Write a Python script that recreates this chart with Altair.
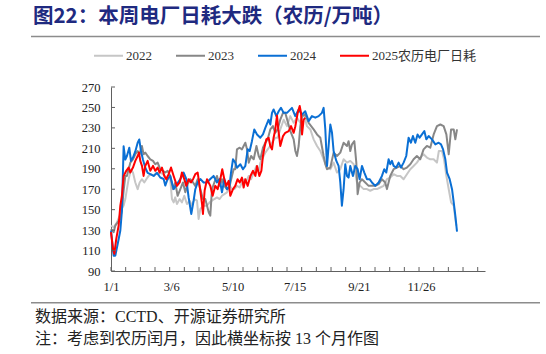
import altair as alt
import pandas as pd

# ---------------- data (day index on a 13-month lunar axis, value in 万吨) ----------------
series_names = ["2022", "2023", "2024", "2025农历电厂日耗"]
series_colors = ["#c6c6c6", "#878787", "#0a6fd4", "#ff0000"]

d2022 = [0, 2.8, 6.4, 9.2, 11.6, 13.4, 15.2, 16.9, 18.7, 21.2, 23.3, 25.8, 28.3, 30.4, 32.8, 35.3, 37.5,
         39.9, 42.4, 45.3, 48.1, 50.6, 52.3, 55.2, 57.6, 60.1, 62.9, 64.7, 66.5, 68.2, 70, 72.9, 75.3, 77.8,
         80.6, 83.5, 85.9, 88.4, 91.3, 93, 94.8, 96.6, 99, 101.9, 104.7, 107.2, 109.7, 112.5, 115.3, 117.8,
         120.3, 123.1, 126, 128.4, 130.9, 133.7, 136.6, 139, 141.5, 143.7, 146.2, 148.7, 151.5, 154.4, 156.8,
         158.5, 161.3, 163.8, 166.3, 169.1, 171.9, 174.4, 176.9, 179.7, 183.3, 186.8, 190.3, 193.9, 197.4,
         201, 204.5, 208, 211.6, 215.1, 218.7, 222.2, 225.7, 229.3, 232.8, 236.3, 239.9, 243.4, 246.9, 250.5,
         254, 257.6, 261.1, 264.6, 268.2, 271.7, 275.2, 278.8, 282.3, 285.8, 289.4, 292.9, 296.4, 300, 303.5,
         307.1, 310.6, 314.1, 317.7, 321.2, 324.7, 328.3, 331.8, 335.3, 338.9, 342.5, 346, 348, 351.4, 353.5,
         356, 358.5, 361, 363.8, 365.5, 366.6]
v2022 = [134.4, 132.8, 137.7, 144.2, 151, 154, 160.4, 170.1, 179.8, 189.6, 186.3, 176.6, 170.1, 176.6, 179.8,
         176.6, 179.8, 183, 184.7, 183, 186.3, 184.7, 186.3, 184.7, 183, 179.8, 179.8, 160.4, 157.1, 162, 155.5,
         160.4, 157.1, 163.6, 155.5, 158.8, 153.9, 160.4, 158.8, 140.9, 150.6, 152.3, 153.9, 153.9, 157.1,
         158.8, 160.4, 162, 160.4, 163.6, 165.2, 166.9, 173.3, 170.1, 170.1, 173.3, 171.7, 176.6, 179.8, 178.2,
         183, 179.8, 186.3, 192.8, 188, 196, 200.9, 205.8, 209, 212.3, 217, 220.4, 220.4, 228.5, 238, 231.7,
         241.5, 235, 239.8, 235, 244.7, 231.7, 228.5, 218.8, 212.3, 207.4, 199.3, 191.2, 189.6, 196, 186.3,
         189.6, 199.3, 196, 197.7, 194.4, 176.6, 173.3, 170.1, 170.1, 168.5, 170.1, 170.1, 171.7, 173.3, 179.8,
         181.4, 184.7, 183, 183, 179.8, 184.7, 189.6, 192.8, 196, 200.9, 204.2, 201, 199.3, 199.3, 196, 207.4,
         207.4, 199.3, 183, 170, 157.1, 153.9, 141, 134.4]

d2023 = [0, 2.8, 4.6, 7.1, 9.9, 11.6, 13.4, 15.2, 16.9, 18.7, 20.5, 23.3, 25.8, 28.3, 30.4, 32.8, 34.6, 36.4,
         38.9, 41.7, 44.6, 47, 49.5, 52.3, 55.2, 57.6, 60.1, 62.9, 65.8, 68.2, 70.7, 73.6, 76.4, 78.9, 81.4,
         84.2, 87.1, 89.5, 92, 94.8, 97.6, 100.1, 103.7, 105.4, 107.2, 109.7, 112.5, 115.3, 117.8, 120.3,
         123.1, 126, 128.4, 130.2, 131.9, 133.7, 136.6, 139, 140.8, 142.6, 144.4, 146.2, 148.7, 151.5, 154.4,
         156.8, 158.5, 161.3, 163.8, 166.3, 169.1, 171.9, 174.4, 176.9, 179.7, 182.6, 185, 187.9, 190.4, 193.9,
         195.7, 197.4, 199.2, 201, 202.8, 206.3, 209.8, 215.1, 218.7, 222.2, 225.7, 227.5, 229.3, 232.8, 236.3,
         239.9, 243.4, 246.9, 250.5, 252.2, 254, 255.8, 258.3, 260.4, 261.8, 263.9, 266.4, 269.9, 273.5, 277,
         280.5, 284.1, 287.6, 291.1, 292.9, 296.4, 300, 303.5, 307.1, 310.6, 314.1, 317.7, 321.2, 324.7, 328.3,
         331.8, 335.3, 338.9, 342.5, 346, 349.6, 353.1, 356, 358.5, 361, 363.8, 365.5, 367.3]
v2023 = [131.2, 128, 134.4, 137.7, 140.9, 150.6, 168.5, 183, 183, 189.6, 196, 199.3, 204.2, 207.4, 204.2,
         212.3, 204.2, 205.8, 202.5, 199.3, 197.7, 194.4, 196, 189.6, 188, 186.3, 188, 183, 170.1, 176.6, 163.6,
         170.1, 176.6, 167, 175, 179.8, 176.6, 173.3, 179.8, 170.1, 160.4, 160.4, 147.4, 144.2, 170.1, 176.6,
         183, 173.3, 179.8, 173.3, 170.1, 173.3, 183, 189.6, 189.6, 209, 210.6, 209, 212.3, 215.5, 209, 196,
         202.5, 199.3, 212.3, 202.5, 199.3, 210.6, 215.5, 218.8, 228.5, 231.7, 225.2, 228.5, 238.2, 244.7,
         244.7, 235, 226.9, 218.8, 207.4, 202.5, 212.3, 231.7, 241.5, 243, 235, 228.5, 223.6, 220.4, 202.5,
         194.4, 189.6, 191.2, 205.8, 202.5, 205.8, 215.5, 212.3, 217, 207.4, 213.9, 217, 196, 165.2, 176.6,
         179.8, 176.6, 173.3, 173.3, 173.3, 175, 179.8, 176.6, 170.1, 183, 189.6, 191.2, 192.8, 189.6, 191.2,
         194.4, 199.3, 202.5, 199.3, 209, 212.3, 210.6, 223.6, 231.7, 233.3, 231.7, 223.6, 204.2, 228.5, 228.5,
         218.8, 228.5]

d2024 = [0, 2.8, 4.6, 8.1, 9.9, 11.6, 13.4, 15.2, 16.9, 19.4, 21.2, 23.3, 25.8, 28.3, 30, 31.8, 33.9, 36.4,
         38.9, 41.7, 45.3, 48.8, 52.3, 55.9, 57.6, 60.1, 62.9, 66.5, 70, 73.6, 77.1, 79.9, 82.4, 85.2, 87.7,
         89.5, 92, 94.8, 98.3, 101.9, 105.4, 108.9, 112.5, 115.3, 117.8, 120.3, 123.1, 125.6, 127.4, 129.5,
         131.9, 133.7, 137.3, 140.1, 142.6, 145.1, 147.2, 149.6, 152.1, 155, 158.5, 161.3, 163.8, 167.3, 169.1,
         170.9, 172.6, 175.5, 178, 180.4, 183.3, 186.8, 192.1, 195.6, 199.2, 202.7, 206.2, 209.8, 213.3, 216.9,
         220.4, 223.9, 225.7, 227.5, 229.3, 231, 232.8, 234.6, 236.3, 239.2, 241.6, 243.4, 245.1, 246.9, 248.7,
         250.5, 252.2, 254, 256.8, 259.3, 261.8, 263.9, 266.4, 268.9, 271.7, 274.5, 277, 280.5, 284.1, 287.6,
         290.1, 292.2, 294.7, 296.4, 298.2, 300, 302.8, 305.3, 307.8, 310.6, 313.4, 315.9, 318.4, 320.5, 323,
         325.4, 327.6, 330.1, 332.6, 334.7, 337.2, 340.7, 344.3, 347.8, 350.3, 352.5, 354.9, 356.7, 359.5, 362,
         363.8, 365.5, 367.3]
v2024 = [129.6, 105, 105, 121, 129.6, 149, 212, 199, 202.5, 210.6, 197.7, 201, 207, 215.5, 218.7, 207.4, 199,
         191, 186, 184.7, 183, 186, 181.5, 180, 173.6, 180, 183, 170.1, 175, 180, 186.3, 180, 162, 145.8, 158.8,
         170, 176.6, 180, 176.6, 176.6, 180, 183, 176.6, 180, 167, 180, 170, 171.7, 186.3, 199.3, 196, 191,
         194.4, 189.5, 192.8, 209, 207.4, 217, 228.5, 223.6, 220.4, 223.6, 230, 238, 233.3, 244.7, 248, 241.5,
         246.3, 249.6, 244.7, 244.7, 249.6, 241.5, 248, 243, 246.3, 236.6, 241.5, 240, 241.5, 244.7, 249.6,
         228.5, 192.8, 212.3, 233.3, 225.2, 207.4, 197.7, 192.8, 176.6, 153.9, 170, 194.4, 183, 181.4, 192.8,
         183, 192.8, 189.6, 179.8, 192.8, 186.3, 179.8, 179.8, 176.6, 173.3, 176.6, 183, 189.6, 186.3, 199.3,
         194.4, 197.7, 192.8, 191.2, 196, 191.2, 196, 202.5, 220.4, 215.5, 222, 215.5, 223.6, 220.4, 223.6,
         226.9, 218.8, 222, 218.8, 213.9, 215.5, 213.9, 209, 199.3, 186.3, 179.8, 170, 157.1, 144.2, 128.6]

d2025 = [0, 2.1, 3.5, 5.6, 8.1, 9.9, 11.6, 13.4, 16.2, 18.7, 20.5, 23.3, 25.8, 28.3, 29.7, 31.1, 32.9, 34.6,
         36.4, 38.9, 41.7, 44.6, 47, 49.5, 51.6, 54.1, 56.6, 58.7, 61.2, 63.7, 66.5, 70, 72.9, 75.3, 77.8, 79.9,
         82.4, 84.9, 87.1, 89.5, 92, 94.1, 96.6, 97.6, 99.4, 101.9, 105.4, 107.9, 110.7, 113.2, 116, 118.1,
         120.3, 122.4, 124.9, 126.6, 129.5, 131.9, 134.4, 136.6, 139, 140.8, 142.6, 145.1, 148, 150.8, 153.3,
         155, 157.5, 159.6, 161.3, 162.8, 164.9, 167.3, 169.1, 170.9, 172.6, 174.4, 176.2, 177.6, 179.7, 182.6,
         185, 188.6, 191.1, 193.9, 195.7, 198.2, 200.3, 201.7, 202.8, 204.5, 206.2]
v2025 = [128, 111.7, 106.8, 121.4, 134.4, 154, 163.6, 183, 188, 191.2, 186.3, 191.2, 197.7, 202.5, 205.8, 197.7,
         192.8, 183, 192.8, 197.7, 188, 192.8, 188, 191.2, 186.3, 191.2, 183, 179.8, 184.7, 191.2, 183, 173.3,
         176.6, 186.3, 179.8, 173.3, 179.8, 176.6, 179.8, 184.7, 186.3, 173.3, 155.9, 145.8, 168.8, 179.8, 173.3,
         163.6, 173.3, 170.1, 179.8, 189.6, 179.8, 173.3, 178.2, 163.6, 170.1, 173.3, 179.8, 176.6, 181.4, 171.7,
         179.8, 173.3, 183, 188, 183, 192.8, 183, 188, 202.5, 210.6, 218.8, 220.4, 212.3, 209, 220.4, 228.5, 242,
         228.5, 212.3, 222, 225.2, 226.9, 231.7, 225.2, 231.7, 244.7, 251.5, 244.7, 223.6, 238, 239.8]

# axis ticks / labels
x_tick_days = [round(i * 15.57, 2) for i in range(26)]
x_label_days = [0, 64, 129, 195, 263, 329]
x_label_text = ["1/1", "3/6", "5/10", "7/15", "9/21", "11/26"]
y_ticks = [90, 110, 130, 150, 170, 190, 210, 230, 250, 270]

title_text = "图22：本周电厂日耗大跌（农历/万吨）"
source_text = "数据来源：CCTD、开源证券研究所"
note_text = "注：考虑到农历闰月，因此横坐标按 13 个月作图"

# ---------------- build ----------------
rows = []
for name, ds, vs in zip(series_names, [d2022, d2023, d2024, d2025], [v2022, v2023, v2024, v2025]):
    for d, v in zip(ds, vs):
        rows.append({"series": name, "day": d, "value": v})
df = pd.DataFrame(rows)

W, H = 374, 184
SERIF = "Liberation Serif, Noto Sans CJK SC"
AXC = "#606060"

label_expr = ""
for d, t in zip(x_label_days, x_label_text):
    label_expr += f"datum.value == {d} ? '{t}' : "
label_expr += "''"

xscale = alt.Scale(domain=[0, 397], nice=False, zero=False)
yscale = alt.Scale(domain=[90, 270], nice=False, zero=False)
xaxis = alt.Axis(title=None, values=x_label_days, labelExpr=label_expr, ticks=False,
                 grid=False, domainColor=AXC, labelFont=SERIF, labelFontSize=12.5,
                 labelColor="#222222", labelPadding=9, labelFlush=False, labelOverlap=False)
yaxis = alt.Axis(title=None, values=y_ticks, ticks=False, grid=False, domainColor=AXC,
                 labelFont=SERIF, labelFontSize=12.5, labelColor="#222222", labelPadding=11)

lines = alt.Chart(df).mark_line(strokeWidth=2, strokeJoin="round").encode(
    x=alt.X("day:Q", scale=xscale, axis=xaxis),
    y=alt.Y("value:Q", scale=yscale, axis=yaxis),
    color=alt.Color("series:N", scale=alt.Scale(domain=series_names, range=series_colors),
                    legend=alt.Legend(title=None, orient="none", legendX=-18, legendY=-47,
                                      direction="horizontal", symbolType="stroke", symbolSize=841,
                                      symbolStrokeWidth=2, labelFont=SERIF, labelFontSize=13,
                                      labelColor="#333333", labelOffset=2, columnPadding=20)),
)

xt = alt.Chart(pd.DataFrame({"day": x_tick_days})).mark_rule(color=AXC, strokeWidth=1).encode(
    x=alt.X("day:Q", scale=xscale, axis=xaxis), y=alt.value(H), y2=alt.value(H - 4))
yt = alt.Chart(pd.DataFrame({"value": y_ticks})).mark_rule(color=AXC, strokeWidth=1).encode(
    y=alt.Y("value:Q", scale=yscale, axis=yaxis), x=alt.value(0), x2=alt.value(4))

def txt(s, x, y, size, color, weight="normal", font=SERIF):
    return alt.Chart(pd.DataFrame({"s": [s]})).mark_text(
        align="left", baseline="middle", fontSize=size, fontWeight=weight, color=color, font=font
    ).encode(text="s:N", x=alt.value(x), y=alt.value(y))

title = txt(title_text, -78, -70, 20.5, "#1f2a80", "bold", "Noto Sans CJK SC")
source = txt(source_text, -76, 229.5, 16, "#222222")
note = txt(note_text, -76, 251.5, 16, "#222222")

sep_top = alt.Chart(pd.DataFrame({"a": [0]})).mark_rule(color="#8c8c8c", strokeWidth=1.5).encode(
    x=alt.value(-80), x2=alt.value(429), y=alt.value(-50.5))
sep_bot = alt.Chart(pd.DataFrame({"a": [0]})).mark_rule(color="#8c8c8c", strokeWidth=1.5).encode(
    x=alt.value(-80), x2=alt.value(429), y=alt.value(215.7))

chart = alt.layer(lines, xt, yt, title, source, note, sep_top, sep_bot).properties(
    width=W, height=H,
    autosize=alt.AutoSizeParams(type="none"),
    padding={"left": 111, "top": 87, "right": 546 - 111 - W, "bottom": 354 - 87 - H},
    background="white",
).configure_view(stroke=None)

chart.save("out.html", embed_options={"renderer": "svg", "actions": False})
